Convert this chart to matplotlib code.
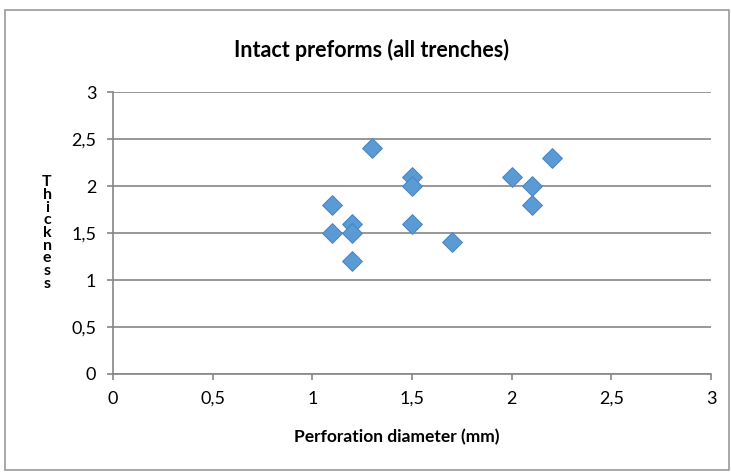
import matplotlib
matplotlib.use("Agg")
import matplotlib.pyplot as plt
from matplotlib.patches import Rectangle

diameter = [1.1, 1.1, 1.2, 1.2, 1.2, 1.3, 1.5, 1.5, 1.5, 1.7, 2.0, 2.1, 2.1, 2.2]
thickness = [1.8, 1.5, 1.6, 1.5, 1.2, 2.4, 2.1, 2.0, 1.6, 1.4, 2.1, 2.0, 1.8, 2.3]
xticks = [0, 0.5, 1, 1.5, 2, 2.5, 3]
xticklabels = ["0", "0,5", "1", "1,5", "2", "2,5", "3"]
yticks = [0, 0.5, 1, 1.5, 2, 2.5, 3]
yticklabels = ["0", "0,5", "1", "1,5", "2", "2,5", "3"]

plt.rcParams['font.family'] = ['Lato', 'DejaVu Sans']

fig = plt.figure(figsize=(7.31, 4.74), dpi=100)
fig.patches.append(Rectangle((5/731, 4/474), 724/731, 460/474, transform=fig.transFigure,
                             fill=False, edgecolor='#9a9a9a', linewidth=1.2))
ax = fig.add_axes([113/731, 1-374/474, (711-113)/731, (374-92)/474])
ax.set_xlim(0, 3)
ax.set_ylim(0, 3)
ax.set_xticks(xticks)
ax.set_xticklabels(xticklabels, fontsize=13)
ax.set_yticks(yticks)
ax.set_yticklabels(yticklabels, fontsize=13)
ax.grid(axis='y', color='#868686', linewidth=1.2)
ax.set_axisbelow(True)
for s in ['top', 'right']:
    ax.spines[s].set_visible(False)
for s in ['left', 'bottom']:
    ax.spines[s].set_color('#868686')
    ax.spines[s].set_linewidth(1.2)
ax.tick_params(direction='out', length=4, color='#868686', width=1.2, pad=8)

ax.scatter(diameter, thickness, marker='D', s=100, color='#5b9bd5', edgecolor='#4a86c5',
           linewidth=0.8, zorder=3)

fig.text(371/731, 1-50/474, "Intact preforms (all trenches)", ha='center', va='center',
         fontsize=15.5, fontweight='bold')
fig.text(397/731, 1-437/474, "Perforation diameter (mm)", ha='center', va='center',
         fontsize=12.5, fontweight='bold')
fig.text(47/731, 1-233/474, "\n".join("Thickness"), ha='center', va='center',
         fontsize=11.5, fontweight='bold', linespacing=0.88)

fig.savefig("out.png", dpi=100)
